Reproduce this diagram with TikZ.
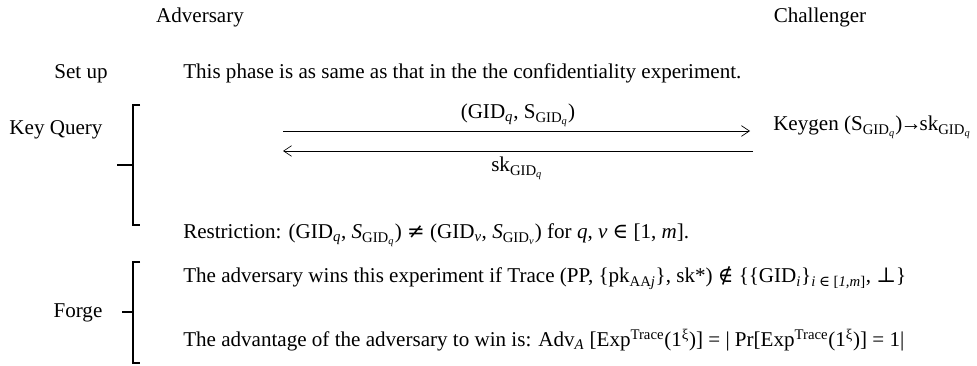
\documentclass[tikz,border=0pt]{standalone}
\usepackage{fontspec}
\setmainfont{Liberation Serif}
\newfontfamily\symf{DejaVu Serif}
\usetikzlibrary{arrows.meta}
\newcommand{\sub}[1]{\textsubscript{#1}}
\newcommand{\sy}[1]{{\symf #1}}
\begin{document}
\begin{tikzpicture}[x=0.75pt,y=-0.75pt,
  txt/.style={inner sep=0pt,font=\fontsize{15.8}{18}\selectfont},
  brk/.style={line width=1.1pt},
  msg/.style={line width=0.5pt,-{Straight Barb[length=6pt,width=8pt]}}]
\useasboundingbox (0,0) rectangle (977,366);
\node[txt,anchor=base] (adv) at (200,23) {Adversary};
\node[txt,anchor=base] (chal) at (820,23) {Challenger};
\node[txt,anchor=base] (setup) at (81,79) {Set up};
\node[txt,anchor=base west] (phase) at (183,79) {This phase is as same as that in the the confidentiality experiment.};
\node[txt,anchor=base] (kq) at (56,135) {Key Query};
\draw[brk] (140,105) -- (133,105) -- (133,225) -- (140,225);
\draw[brk] (117,165) -- (133,165);
\coordinate (a1s) at (283,131);
\coordinate (a1e) at (750,131);
\coordinate (a2s) at (753,151);
\coordinate (a2e) at (283,151);
\draw[msg] (a1s) -- (a1e);
\draw[msg] (a2s) -- (a2e);
\node[txt,anchor=base] (l1) at (518,119) {(GID\sub{\textit{q}}, S\sub{GID\sub{\textit{q}}})};
\node[txt,anchor=base] (l2) at (517,172) {sk\sub{GID\sub{\textit{q}}}};
\node[txt,anchor=base west] (kg) at (773,131) {Keygen (S\sub{GID\sub{\textit{q}}})\kern-1.5pt→\kern-1.5pt sk\sub{GID\sub{\textit{q}}}};
\node[txt,anchor=base west] (res) at (183,239) {Restriction: (GID\sub{\textit{q}}, \textit{S}\sub{GID\sub{\textit{q}}}) \sy{≠} (GID\sub{\textit{v}}, \textit{S}\sub{GID\sub{\textit{v}}}) for \textit{q}, \textit{v} \sy{∈} [1, \textit{m}].};
\node[txt,anchor=base] (forge) at (78,318) {Forge};
\draw[brk] (140,262) -- (133,262) -- (133,363) -- (140,363);
\draw[brk] (122,312) -- (133,312);
\node[txt,anchor=base west] (win) at (183,283) {The adversary wins this experiment if Trace (PP, \{pk\sub{AA\textit{j}}\}, sk*) \sy{∉} \{\{GID\sub{\textit{i}}\}\sub{\textit{i} \sy{∈} [\textit{1,m}]}, \sy{⊥}\}};
\node[txt,anchor=base west] (advt) at (183,346) {The advantage of the adversary to win is: Adv\sub{\textit{A}} [Exp\textsuperscript{Trace}(1\textsuperscript{ξ})] = | Pr[Exp\textsuperscript{Trace}(1\textsuperscript{ξ})] = 1|};
\end{tikzpicture}
\end{document}
